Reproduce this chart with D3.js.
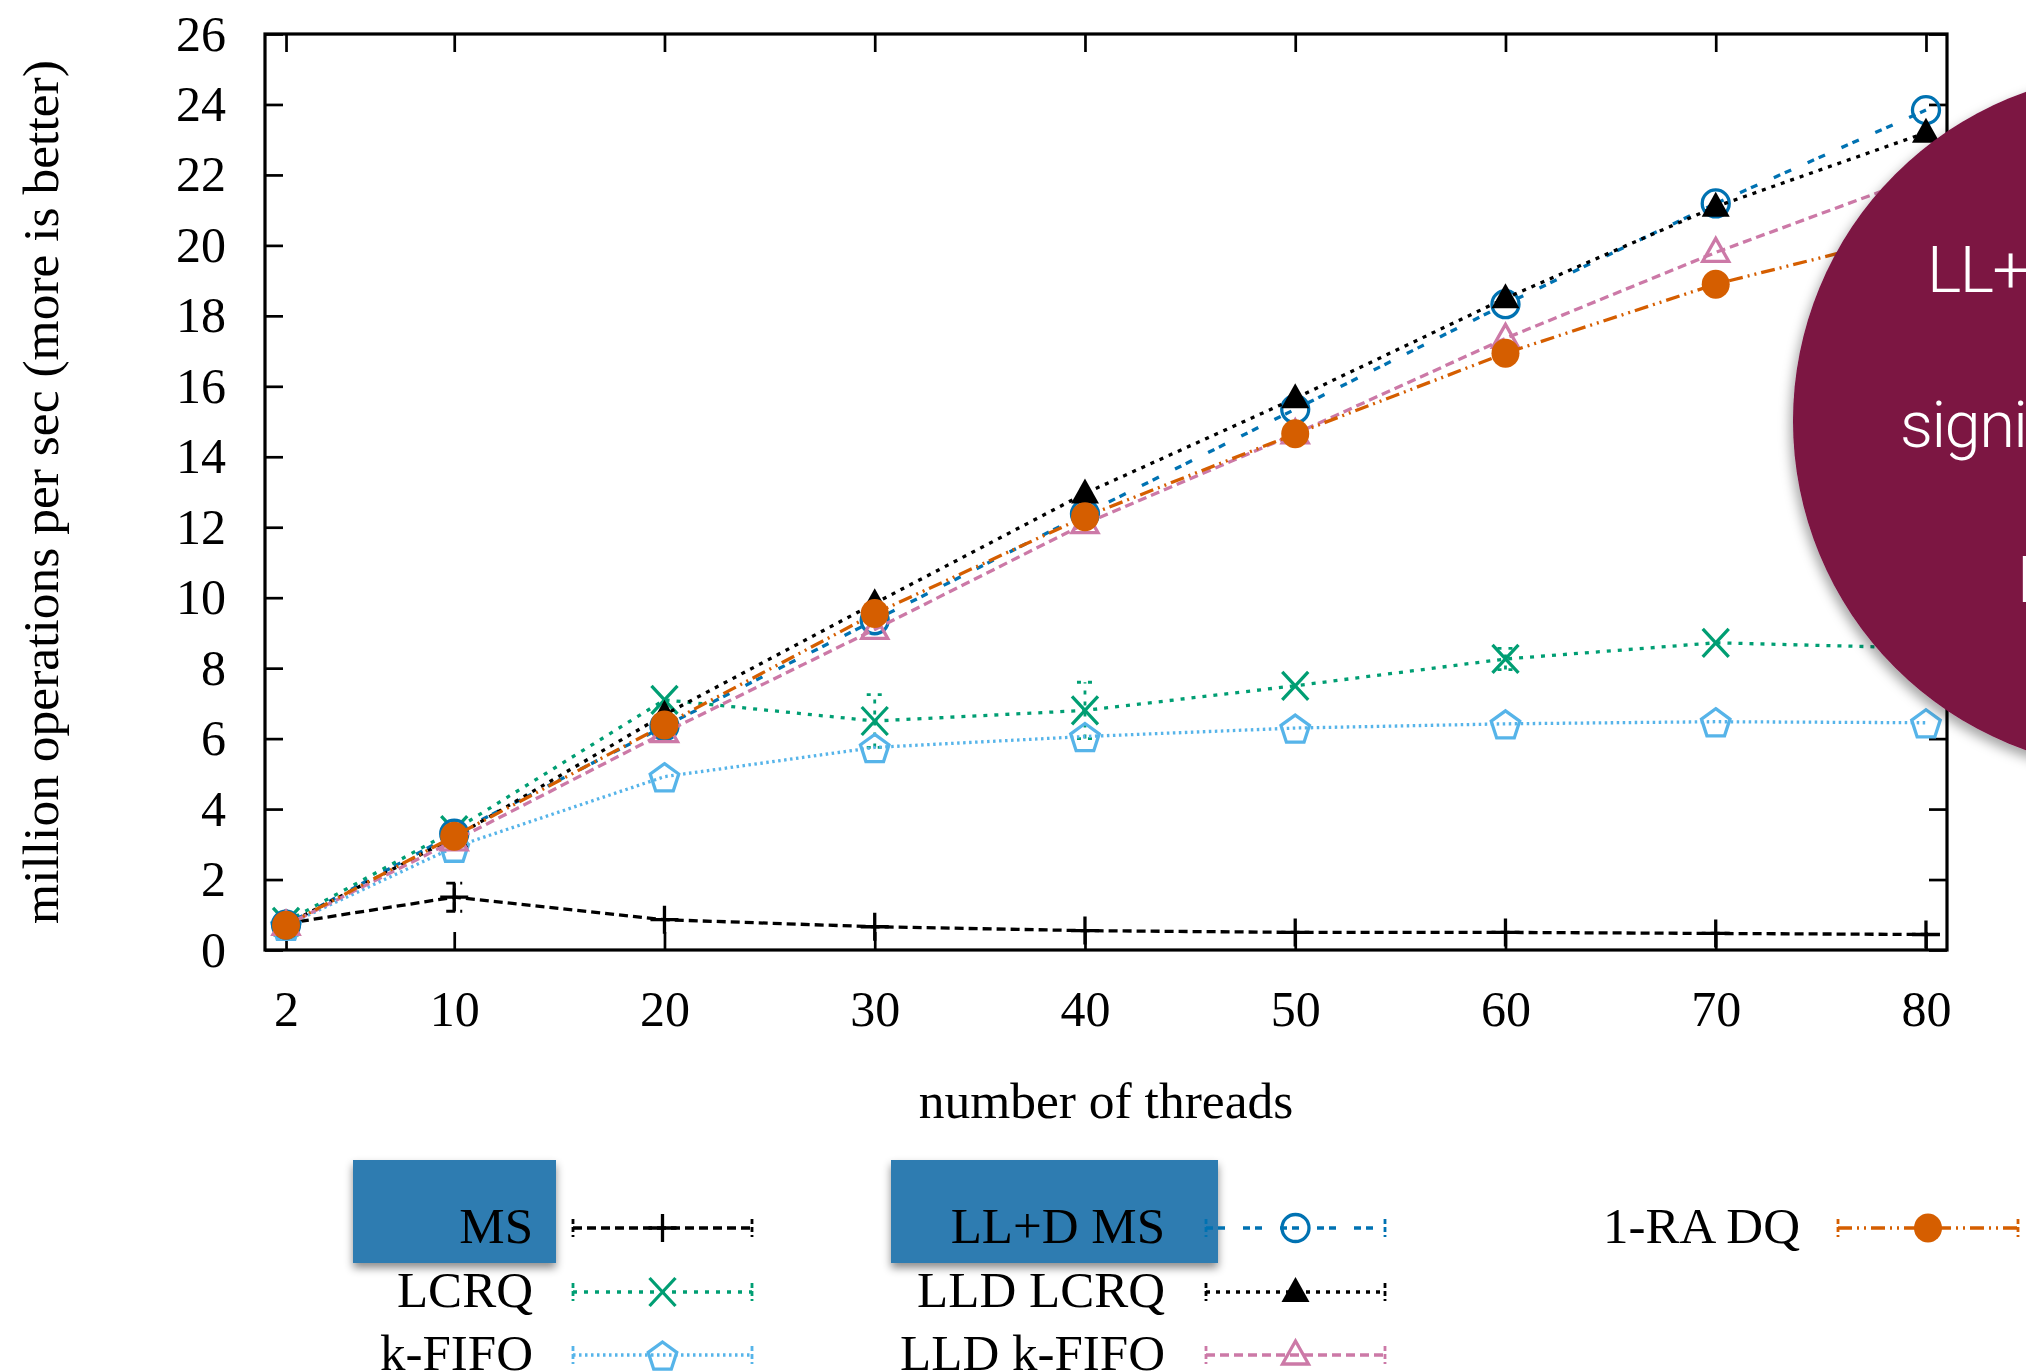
<!DOCTYPE html>
<html>
    <head>
        <style>
            body { margin: 0; background: #fff; }
            svg { display: block; }
        </style>
    </head>
    <body>
        <svg></svg>

        <script src="https://d3js.org/d3.v7.min.js"></script>

        <script>
            // x values (number of threads) and tick labels
            const threads = [2, 10, 20, 30, 40, 50, 60, 70, 80];
            const yTicks = [0, 2, 4, 6, 8, 10, 12, 14, 16, 18, 20, 22, 24, 26];

            // million operations per sec, one array per queue
            const ms       = [0.75, 1.5, 0.86, 0.66, 0.55, 0.5, 0.5, 0.47, 0.44];
            const lcrq     = [0.8, 3.4, 7.1, 6.5, 6.8, 7.5, 8.26, 8.72, 8.57];
            const kfifo    = [0.7, 2.92, 4.92, 5.75, 6.06, 6.3, 6.42, 6.48, 6.45];
            const lldMs    = [0.72, 3.3, 6.35, 9.36, 12.38, 15.35, 18.33, 21.19, 23.84];
            const lldLcrq  = [0.72, 3.2, 6.68, 9.84, 12.96, 15.66, 18.5, 21.1, 23.2];
            const lldKfifo = [0.7, 3.1, 6.17, 9.1, 12.1, 14.65, 17.36, 19.8, 22.0];
            const raDq     = [0.7, 3.23, 6.39, 9.55, 12.3, 14.65, 16.94, 18.9, 20.4];

            // error bar half-heights (only a few are visible)
            const msErr   = [0, 0.4, 0, 0, 0, 0, 0, 0, 0];
            const lcrqErr = [0, 0, 0, 0.75, 0.8, 0, 0.3, 0, 0];
            const noErr   = [0, 0, 0, 0, 0, 0, 0, 0, 0];

            const names = ["MS", "LCRQ", "k-FIFO", "LL+D MS", "LLD LCRQ", "LLD k-FIFO", "1-RA DQ"];
            const circleLines = ["LL+D MS is", "significantly faster", "MS"];

            const width = 2026, height = 1371;
            const serif = "'Liberation Serif', 'Times New Roman', serif";
            const lw = 3.3;

            const series = [
                { name: names[0], values: ms,       err: msErr,   color: "#000000", dash: "9,5",          marker: "plus" },
                { name: names[1], values: lcrq,     err: lcrqErr, color: "#009E73", dash: "4,7",          marker: "cross" },
                { name: names[2], values: kfifo,    err: noErr,   color: "#56B4E9", dash: "2.5,3.5",      marker: "pentagon" },
                { name: names[3], values: lldMs,    err: noErr,   color: "#0072B2", dash: "7,5,7,18",     marker: "circle" },
                { name: names[4], values: lldLcrq,  err: noErr,   color: "#000000", dash: "4,6",          marker: "triangleFilled" },
                { name: names[5], values: lldKfifo, err: noErr,   color: "#CC79A7", dash: "9,5",          marker: "triangle" },
                { name: names[6], values: raDq,     err: noErr,   color: "#D55E00", dash: "14,5,2,5,2,5", marker: "circleFilled" }
            ];

            const svg = d3.select("svg")
                .attr("width", width)
                .attr("height", height)
                .attr("font-family", serif);

            const defs = svg.append("defs");
            defs.append("filter").attr("id", "boxShadow")
                .attr("x", "-20%").attr("y", "-20%").attr("width", "140%").attr("height", "150%")
                .append("feDropShadow")
                .attr("dx", 0).attr("dy", 5).attr("stdDeviation", 4)
                .attr("flood-color", "#000").attr("flood-opacity", 0.45);
            defs.append("filter").attr("id", "circleShadow")
                .attr("x", "-20%").attr("y", "-20%").attr("width", "140%").attr("height", "140%")
                .append("feDropShadow")
                .attr("dx", -3).attr("dy", 6).attr("stdDeviation", 6)
                .attr("flood-color", "#000").attr("flood-opacity", 0.35);

            svg.append("rect").attr("width", width).attr("height", height).attr("fill", "#fff");

            const x = d3.scaleLinear().domain([1, 81]).range([265, 1947]);
            const y = d3.scaleLinear().domain([0, 26]).range([950, 34]);

            // axes with inward ticks, mirrored on top/right
            const axisStyle = function(g) {
                g.select(".domain").remove();
                g.selectAll(".tick line").attr("stroke", "#000").attr("stroke-width", 2.7);
                g.selectAll(".tick text").attr("font-family", serif).attr("font-size", 50).attr("fill", "#000");
            };

            svg.append("g")
                .attr("transform", "translate(265,0)")
                .call(d3.axisLeft(y).tickValues(yTicks).tickSizeInner(-18).tickSizeOuter(0).tickPadding(39))
                .call(axisStyle);
            svg.append("g")
                .attr("transform", "translate(1947,0)")
                .call(d3.axisRight(y).tickValues(yTicks).tickSizeInner(-18).tickSizeOuter(0).tickFormat(""))
                .call(axisStyle);
            svg.append("g")
                .attr("transform", "translate(0,950)")
                .call(d3.axisBottom(x).tickValues(threads).tickSizeInner(-18).tickSizeOuter(0).tickPadding(40))
                .call(axisStyle);
            svg.append("g")
                .attr("transform", "translate(0,34)")
                .call(d3.axisTop(x).tickValues(threads).tickSizeInner(-18).tickSizeOuter(0).tickFormat(""))
                .call(axisStyle);

            svg.append("rect")
                .attr("x", 265).attr("y", 34)
                .attr("width", 1947 - 265).attr("height", 950 - 34)
                .attr("fill", "none").attr("stroke", "#000").attr("stroke-width", 3.2);

            // axis titles
            svg.append("text")
                .attr("transform", "translate(58,492) rotate(-90)")
                .attr("text-anchor", "middle")
                .attr("font-size", 51.5)
                .text("million operations per sec (more is better)");
            svg.append("text")
                .attr("x", 1106).attr("y", 1118)
                .attr("text-anchor", "middle")
                .attr("font-size", 51.5)
                .text("number of threads");

            // marker shapes
            function pentagonPath(r) {
                const pts = d3.range(5).map(function(i) {
                    const a = -Math.PI / 2 + i * 2 * Math.PI / 5;
                    return [r * Math.cos(a), r * Math.sin(a) + 2];
                });
                return "M" + pts.join("L") + "Z";
            }
            function drawMarker(g, type, color) {
                const sw = 3.3;
                if (type === "plus") {
                    g.append("path").attr("d", "M-14,0H14M0,-14V14")
                        .attr("stroke", color).attr("stroke-width", sw).attr("fill", "none");
                } else if (type === "cross") {
                    g.append("path").attr("d", "M-13,-14L13,14M-13,14L13,-14")
                        .attr("stroke", color).attr("stroke-width", sw).attr("fill", "none");
                } else if (type === "pentagon") {
                    g.append("path").attr("d", pentagonPath(15))
                        .attr("stroke", color).attr("stroke-width", sw).attr("fill", "none");
                } else if (type === "circle") {
                    g.append("circle").attr("r", 13.5)
                        .attr("stroke", color).attr("stroke-width", sw).attr("fill", "none");
                } else if (type === "triangleFilled") {
                    g.append("path").attr("d", "M0,-15L14,10L-14,10Z").attr("fill", color);
                } else if (type === "triangle") {
                    g.append("path").attr("d", "M0,-14L13,9L-13,9Z")
                        .attr("stroke", color).attr("stroke-width", sw).attr("fill", "none");
                } else if (type === "circleFilled") {
                    g.append("ellipse").attr("rx", 14).attr("ry", 14.5).attr("fill", color);
                }
            }

            const line = d3.line()
                .x(function(d) { return x(d.t); })
                .y(function(d) { return y(d.v); });

            series.forEach(function(s) {
                const pts = threads.map(function(t, i) { return { t: t, v: s.values[i], e: s.err[i] }; });
                const g = svg.append("g");

                g.append("path")
                    .datum(pts)
                    .attr("d", line)
                    .attr("fill", "none")
                    .attr("stroke", s.color)
                    .attr("stroke-width", lw)
                    .attr("stroke-dasharray", s.dash);

                // error bars
                g.selectAll(".err")
                    .data(pts.filter(function(d) { return d.e > 0; }))
                    .enter()
                    .append("path")
                    .attr("d", function(d) {
                        const px = x(d.t), lo = y(d.v - d.e), hi = y(d.v + d.e);
                        return "M" + px + "," + lo + "V" + hi +
                            "M" + (px - 8) + "," + hi + "H" + (px + 8) +
                            "M" + (px - 8) + "," + lo + "H" + (px + 8);
                    })
                    .attr("fill", "none")
                    .attr("stroke", s.color)
                    .attr("stroke-width", 2.8)
                    .attr("stroke-dasharray", s.dash);

                g.selectAll(".mk")
                    .data(pts)
                    .enter()
                    .append("g")
                    .attr("transform", function(d) { return "translate(" + x(d.t) + "," + y(d.v) + ")"; })
                    .each(function() { drawMarker(d3.select(this), s.marker, s.color); });
            });

            // highlight boxes behind the first legend row entries
            svg.append("rect")
                .attr("x", 353).attr("y", 1160).attr("width", 203).attr("height", 103)
                .attr("fill", "#2f7cb1").attr("filter", "url(#boxShadow)");
            svg.append("rect")
                .attr("x", 891).attr("y", 1160).attr("width", 327).attr("height", 103)
                .attr("fill", "#2f7cb1").attr("filter", "url(#boxShadow)");

            // legend: three columns
            const legendCols = [
                { labelX: 533,  x0: 573,  x1: 752 },
                { labelX: 1165, x0: 1206, x1: 1385 },
                { labelX: 1800, x0: 1838, x1: 2018 }
            ];
            const legendRows = [1228, 1292, 1355];

            series.forEach(function(s, i) {
                const col = legendCols[Math.floor(i / 3)];
                const ry = legendRows[i % 3];
                const g = svg.append("g");
                g.append("text")
                    .attr("x", col.labelX).attr("y", ry + 15)
                    .attr("text-anchor", "end")
                    .attr("font-size", 51)
                    .text(s.name);
                g.append("path")
                    .attr("d", "M" + col.x0 + "," + ry + "H" + col.x1)
                    .attr("stroke", s.color).attr("stroke-width", lw)
                    .attr("stroke-dasharray", s.dash).attr("fill", "none");
                g.append("path")
                    .attr("d", "M" + col.x0 + "," + (ry - 9) + "V" + (ry + 9) +
                               "M" + col.x1 + "," + (ry - 9) + "V" + (ry + 9))
                    .attr("stroke", s.color).attr("stroke-width", 2.8)
                    .attr("stroke-dasharray", "5,3").attr("fill", "none");
                const mg = g.append("g")
                    .attr("transform", "translate(" + ((col.x0 + col.x1) / 2) + "," + ry + ")");
                drawMarker(mg, s.marker, s.color);
            });

            // callout circle on the right
            svg.append("circle")
                .attr("cx", 2142).attr("cy", 421).attr("r", 349)
                .attr("fill", "#7b1242")
                .attr("filter", "url(#circleShadow)");

            const lineStarts = [1927, 1900, 2017];
            const lineBase = [292, 447, 602];
            svg.selectAll(".callout")
                .data(circleLines)
                .enter()
                .append("text")
                .attr("x", function(d, i) { return lineStarts[i]; })
                .attr("y", function(d, i) { return lineBase[i]; })
                .attr("font-family", "Roboto, Lato, 'Open Sans', sans-serif")
                .attr("font-weight", 300)
                .attr("font-size", 65)
                .attr("letter-spacing", -1.5)
                .attr("fill", "#fff")
                .text(function(d) { return d; });
        </script>
    </body>
</html>
